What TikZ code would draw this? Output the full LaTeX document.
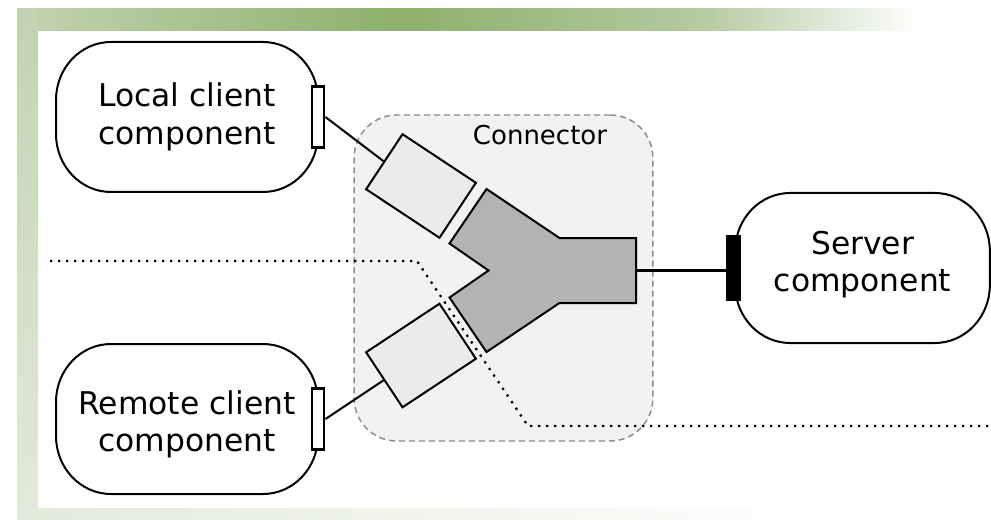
\documentclass[tikz,border=0pt]{standalone}
\usepackage{fontspec}
\setmainfont{DejaVu Sans}
\usepackage{tikz}
\usetikzlibrary{calc}

\definecolor{bandlight}{HTML}{C2D3B0}
\definecolor{banddark}{HTML}{8DB06B}
\definecolor{bandmid}{HTML}{B5CAA0}
\definecolor{bandpale}{HTML}{E3EADA}
\definecolor{connfill}{HTML}{F2F2F2}
\definecolor{connline}{HTML}{8C8C8C}
\definecolor{endfill}{HTML}{EBEBEB}
\definecolor{yfill}{HTML}{B3B3B3}

% outline of a component: flat sides, elliptic corners
\newcommand{\compframe}[1]{%
  \draw[compline] ($(#1.north west)+(55,0)$) -- ($(#1.north east)+(-55,0)$)
    .. controls +(30.4,0) and +(0,-32) .. ($(#1.east)+(0,-17)$)
    -- ($(#1.east)+(0,17)$)
    .. controls +(0,32) and +(30.4,0) .. ($(#1.south east)+(-55,0)$)
    -- ($(#1.south west)+(55,0)$)
    .. controls +(-30.4,0) and +(0,32) .. ($(#1.west)+(0,17)$)
    -- ($(#1.west)+(0,-17)$)
    .. controls +(0,-32) and +(-30.4,0) .. cycle;}

\begin{document}
\begin{tikzpicture}[x=0.75pt,y=0.75pt,yscale=-1,xscale=1,
  comp/.style={outer sep=0pt, minimum width=196.5pt, minimum height=112.5pt, align=center, font=\fontsize{23.5}{28}\selectfont},
  compline/.style={line width=1.5pt, fill=white},
  port/.style={draw, line width=2.2pt, fill=white, minimum width=9pt, minimum height=46pt, inner sep=0pt},
  srvport/.style={draw, fill=black, line width=1pt, minimum width=10pt, minimum height=49pt, inner sep=0pt},
  endbox/.style={draw, line width=1.5pt, fill=endfill, minimum width=66pt, minimum height=49.5pt, inner sep=0pt},
  connbox/.style={draw=connline, fill=connfill, line width=1.1pt, dash pattern=on 4.5pt off 3pt, rounded corners=32pt, minimum width=224pt, minimum height=244.5pt, inner sep=0pt},
  wire/.style={line width=1.5pt}]
\useasboundingbox (0,0) rectangle (991,520);

%frame
\fill[white] (0,0) rectangle (991,520);
\shade[left color=bandlight, right color=banddark] (17,9) rectangle (400,31);
\shade[left color=banddark, right color=bandmid] (400,9) rectangle (700,31);
\shade[left color=bandmid, right color=white] (700,9) rectangle (920,31);
\shade[top color=bandlight, bottom color=bandpale] (17,9) rectangle (38,520);
\shade[left color=bandpale, right color=white] (17,508) rectangle (825,520);
\fill[white] (38,31) rectangle (991,508);

%connector
\node[connbox] (conn) at (503.5,278) {};
\node[font=\fontsize{19.5}{23}\selectfont, inner sep=0pt] (connlabel) at (540,135) {Connector};

%dotted boundary
\draw[line width=1.7pt, dash pattern=on 1.7pt off 4.3pt] (50,261) -- (417,261) -- (528,426) -- (991,426);

%ends of the connector
\node[endbox, rotate=-33.5] (localend) at (421,186) {};
\node[endbox, rotate=33.5] (remoteend) at (421,355.5) {};

%joining part
\draw[line width=1.5pt, fill=yfill] (486.5,189) -- (559.5,238) -- (636,238) -- (636,303) -- (559.5,303) -- (486.5,352) -- (449.5,297.5) -- (488.5,270.5) -- (449.5,243.5) -- cycle;
\coordinate (yout) at (636,270.5);

%components
\path (187,117) node[comp] (local) {}
      (187,419) node[comp] (remote) {}
      (862.5,268) node[comp, minimum width=191pt] (server) {};
\compframe{local}
\compframe{remote}
\compframe{server}
\node[comp, minimum width=0pt, minimum height=0pt] (localtext) at (local.center) {Local client\\component};
\node[comp, minimum width=0pt, minimum height=0pt] (remotetext) at ([yshift=4pt]remote.center) {Remote client\\component};
\node[comp, minimum width=0pt, minimum height=0pt] (servertext) at ([yshift=-2.5pt]server.center) {Server\\component};

%ports
\node[port] (localport) at (local.east) {};
\node[port] (remoteport) at (remote.east) {};
\node[srvport] (serverport) at ([xshift=-1.5pt]server.west) {};

%wires
\draw[wire] (localport.east) -- (localend.west);
\draw[wire] (remoteport.east) -- (remoteend.west);
\draw[line width=2pt] (yout) -- (serverport.west |- yout);

\end{tikzpicture}
\end{document}
